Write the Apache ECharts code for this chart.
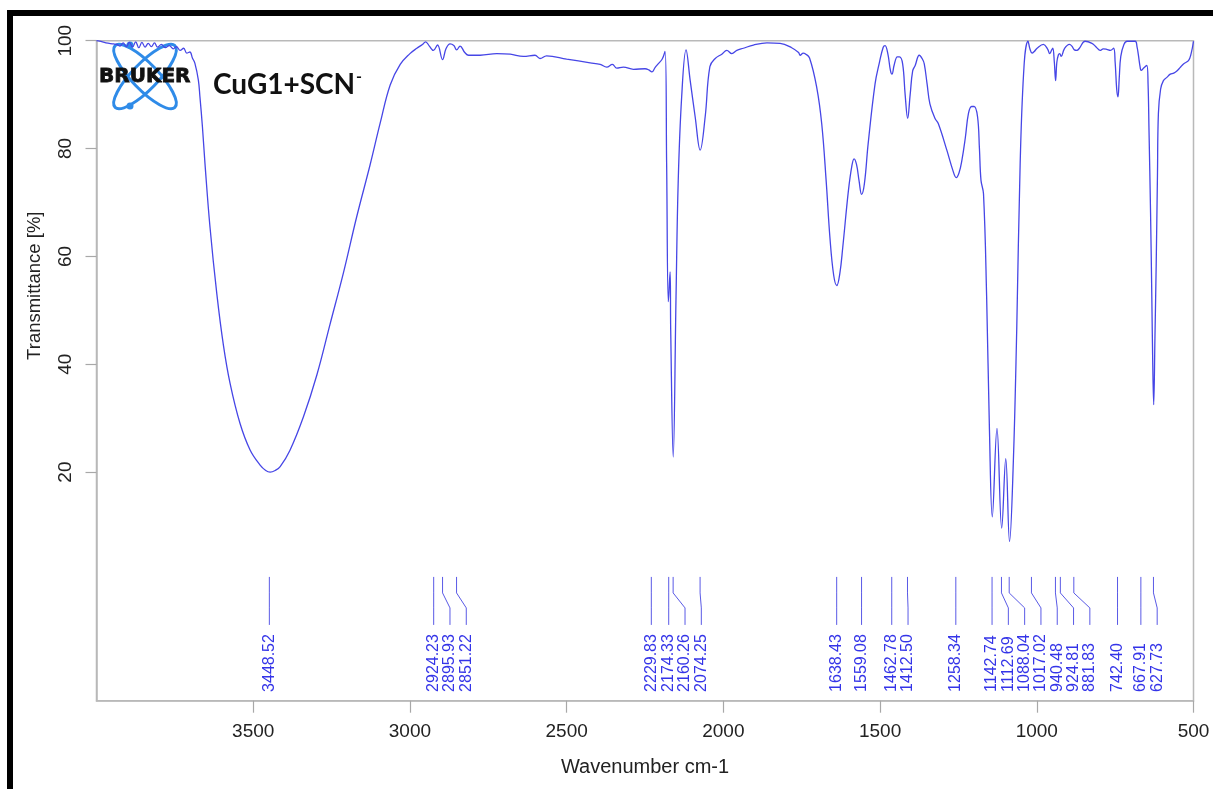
<!DOCTYPE html>
<html><head><meta charset="utf-8">
<script src="https://cdn.jsdelivr.net/npm/echarts@6/dist/echarts.min.js"></script>
<style>html,body{margin:0;padding:0;background:#fff}#c{width:1213px;height:789px}</style>
</head><body><div id="c"></div>
<script>
// ---- data ----
const wavenumbers = [4000,3990,3970,3946,3935,3925,3915,3905,3895,3885,3875,3865,3855,3845,3835,3825,3815,3805,3793,3780,3768,3755,3745,3733,3722,3712,3702,3694,3686,3675,3670,3662,3654,3638,3616,3595,3574,3542,3510,3478,3460,3446,3430,3414,3383,3340,3297,3255,3212,3170,3127,3095,3063,3031,3000,2978,2960,2950,2938,2925,2912,2896,2885,2872,2860,2851,2840,2825,2813,2776,2723,2680,2638,2601,2585,2564,2500,2425,2393,2372,2354,2340,2319,2287,2250,2238,2228,2218,2208,2195,2186,2181,2175.5,2170,2168,2160,2151,2144,2133,2119,2106,2090,2074,2058,2043,2026,2005,1989,1973,1957,1936,1904,1861,1819,1782,1760,1755,1745,1739,1725,1702,1686,1672,1660,1648,1638,1628,1619,1601,1590,1583,1575,1567,1559,1550,1538,1516,1502,1490,1484,1475,1467,1462,1455,1445,1438,1428,1420,1412,1404,1396,1388,1375,1365,1359,1350,1341,1325,1314,1287,1268,1257,1248,1239,1228,1218,1208,1200,1189,1183,1178,1170,1160,1151,1142,1127,1112,1099,1087,1075,1064,1053,1040,1028,1022,1015,1008,999,979,965,959,953,949,944,940,936,931,927,922,912,896,888,880,872,864,846,824,810,798,788,777,765,755,750,745,741,737,732,722,712,686,680,676,670,667,658,649,645,642,637,633,630,627,623,619,615,612,605,596,585,574,563,553,543,532,516,508,500];
const transmittance = [100.0,99.9,99.6,99.4,99.3,99.0,99.6,98.9,99.7,98.8,99.8,98.7,99.7,98.8,99.5,98.9,99.6,98.8,99.3,98.7,99.1,98.5,98.9,98.2,98.6,97.7,97.9,96.8,95.8,92.7,89.6,84.0,77.3,65.5,53.0,43.5,36.5,29.0,24.1,21.3,20.3,20.0,20.3,21.0,24.0,30.2,38.0,47.4,57.0,67.3,77.0,84.7,91.8,95.6,97.6,98.6,99.3,99.8,99.0,98.2,99.2,96.5,98.5,99.4,99.1,98.3,99.0,97.8,97.3,97.3,97.6,97.5,97.1,97.3,96.7,97.2,96.6,95.9,95.6,95.1,95.6,94.9,95.1,94.7,94.8,94.6,94.2,95.0,95.7,96.6,98.0,77.3,51.6,57.1,46.4,22.8,52.5,74.0,89.6,98.3,92.7,85.9,79.7,85.9,95.2,96.7,97.5,98.2,97.6,98.2,98.6,99.2,99.6,99.5,98.7,97.8,97.3,97.7,97.6,96.8,91.3,84.5,74.0,63.5,56.5,54.6,57.0,61.7,72.2,76.8,78.1,77.0,74.0,71.5,73.5,80.9,92.0,96.0,98.8,99.1,97.5,94.5,93.8,95.5,97.0,97.0,95.7,90.0,85.6,90.0,94.4,95.4,97.3,96.6,95.7,92.0,88.3,85.6,84.6,79.7,76.0,74.6,75.5,77.8,82.0,86.5,87.8,87.8,85.9,80.0,74.1,71.6,52.5,27.8,11.7,28.1,9.6,22.5,7.1,21.6,46.4,77.3,95.9,99.9,98.5,97.7,98.0,98.6,99.3,98.4,97.6,98.2,98.6,96.0,92.6,96.0,97.4,97.6,97.1,98.5,99.3,99.0,98.3,98.2,98.6,99.9,99.5,98.8,98.2,98.5,98.4,98.2,98.6,96.0,91.0,89.6,93.0,97.1,99.3,99.9,99.9,98.8,97.4,95.0,94.5,95.0,95.4,92.0,83.5,68.0,52.5,40.0,32.5,45.0,58.6,75.0,86.5,91.0,92.6,93.2,93.8,94.0,94.4,95.0,95.7,96.3,97.5,99.9];
const peakPositions = [3448.52,2924.23,2895.93,2851.22,2229.83,2174.33,2160.26,2074.25,1638.43,1559.08,1462.78,1412.50,1258.34,1142.74,1112.69,1088.04,1017.02,940.48,924.81,881.83,742.40,667.91,627.73];
const xTickValues = [3500,3000,2500,2000,1500,1000,500];
const yTickValues = [20,40,60,80,100];
const titleMain = 'CuG1+SCN';
const titleSup = '-';
const logoText = 'BRUKER';
const xAxisName = 'Wavenumber cm-1';
const yAxisName = 'Transmittance [%]';

// ---- chart ----
const chart = echarts.init(document.getElementById('c'), null, {renderer: 'canvas'});
const FONT = '"Liberation Sans", Arial, sans-serif';
const LABEL_GAP = 16.3;

function peakLayout(api) {
  const pts = peakPositions.map(p => api.coord([p, 0]));
  const lx = [];
  for (let i = 0; i < pts.length; i++) {
    let x = pts[i][0];
    if (i > 0 && x < lx[i - 1] + LABEL_GAP) x = lx[i - 1] + LABEL_GAP;
    lx.push(x);
  }
  return {pts, lx};
}

const option = {
  backgroundColor: '#ffffff',
  animation: false,
  grid: {left: 96.5, top: 40.7, width: 1097, height: 660, show: true, borderColor: '#b9b9b9', borderWidth: 1.5, backgroundColor: 'transparent'},
  xAxis: {
    type: 'value', min: 500, max: 4000, inverse: true,
    axisLine: {show: true, onZero: false, lineStyle: {color: '#b9b9b9', width: 1.5}},
    axisTick: {show: true, length: 12, customValues: xTickValues, lineStyle: {color: '#a8a8a8', width: 1.2}},
    axisLabel: {customValues: xTickValues, margin: 22, fontSize: 19, color: '#222', fontFamily: FONT, formatter: v => String(v)},
    splitLine: {show: false},
    name: xAxisName, nameLocation: 'middle', nameGap: 57,
    nameTextStyle: {fontSize: 20, color: '#222', fontFamily: FONT}
  },
  yAxis: {
    type: 'value', min: -22.4, max: 100,
    axisLine: {show: true, onZero: false, lineStyle: {color: '#b9b9b9', width: 1.5}},
    axisTick: {show: true, length: 11, customValues: yTickValues, lineStyle: {color: '#a8a8a8', width: 1.2}},
    axisLabel: {customValues: yTickValues, rotate: 90, margin: 21, fontSize: 19, color: '#222', fontFamily: FONT, formatter: v => String(v)},
    splitLine: {show: false},
    name: yAxisName, nameLocation: 'middle', nameGap: 52,
    nameTextStyle: {fontSize: 18.5, color: '#222', fontFamily: FONT, padding: [0, 0, 0, 170]}
  },
  graphic: [
    {type: 'rect', left: 7, top: 10, shape: {width: 1206, height: 6}, style: {fill: '#000'}, z: 100},
    {type: 'rect', left: 7, top: 10, shape: {width: 6, height: 779}, style: {fill: '#000'}, z: 100},
    {type: 'ellipse', x: 145, y: 76.5, rotation: 46 * Math.PI / 180, shape: {cx: 0, cy: 0, rx: 43, ry: 13}, style: {fill: null, stroke: '#2f8be8', lineWidth: 3}, z: 0},
    {type: 'ellipse', x: 145, y: 76.5, rotation: -46 * Math.PI / 180, shape: {cx: 0, cy: 0, rx: 43, ry: 13}, style: {fill: null, stroke: '#2f8be8', lineWidth: 3}, z: 0},
    {type: 'circle', shape: {cx: 130, cy: 45, r: 3.5}, style: {fill: '#2f8be8'}, z: 0},
    {type: 'circle', shape: {cx: 130, cy: 106, r: 3.5}, style: {fill: '#2f8be8'}, z: 0},
    {type: 'text', x: 99, y: 77, style: {text: logoText, font: 'bold 20px "DejaVu Sans", sans-serif', fill: '#111', stroke: '#111', lineWidth: 0.8, align: 'left', verticalAlign: 'middle'}, z: 1},
    {type: 'text', x: 213, y: 85, style: {text: titleMain, font: 'bold 28px Lato, "Open Sans", sans-serif', fill: '#111', align: 'left', verticalAlign: 'middle'}, z: 1},
    {type: 'text', x: 356, y: 77, style: {text: titleSup, font: 'bold 16px Lato, "Open Sans", sans-serif', fill: '#111', align: 'left', verticalAlign: 'middle'}, z: 1}
  ],
  series: [
    {
      type: 'line', name: 'spectrum',
      data: wavenumbers.map((w, i) => [w, transmittance[i]]),
      showSymbol: false, smooth: 0.4,
      lineStyle: {color: '#4646e6', width: 1.3}, z: 5
    },
    {
      type: 'custom', name: 'peaks', coordinateSystem: 'cartesian2d',
      data: peakPositions.map(p => [p, 0]),
      encode: {x: 0, y: 1},
      renderItem: function (params, api) {
        const L = peakLayout(api);
        const i = params.dataIndex;
        const px = L.pts[i][0], y0 = L.pts[i][1], lx = L.lx[i];
        return {
          type: 'group', children: [
            {type: 'polyline', shape: {points: [[px, y0 - 3], [px, y0 + 13], [lx, y0 + 28], [lx, y0 + 45]]}, style: {stroke: '#5a5ae6', lineWidth: 1, fill: null}},
            {type: 'text', x: lx, y: y0 + 112, rotation: Math.PI / 2, style: {text: peakPositions[i].toFixed(2), fill: '#3434e8', font: '16px ' + FONT, align: 'left', verticalAlign: 'middle'}}
          ]
        };
      }, z: 6
    }
  ]
};
chart.setOption(option);
</script></body></html>
